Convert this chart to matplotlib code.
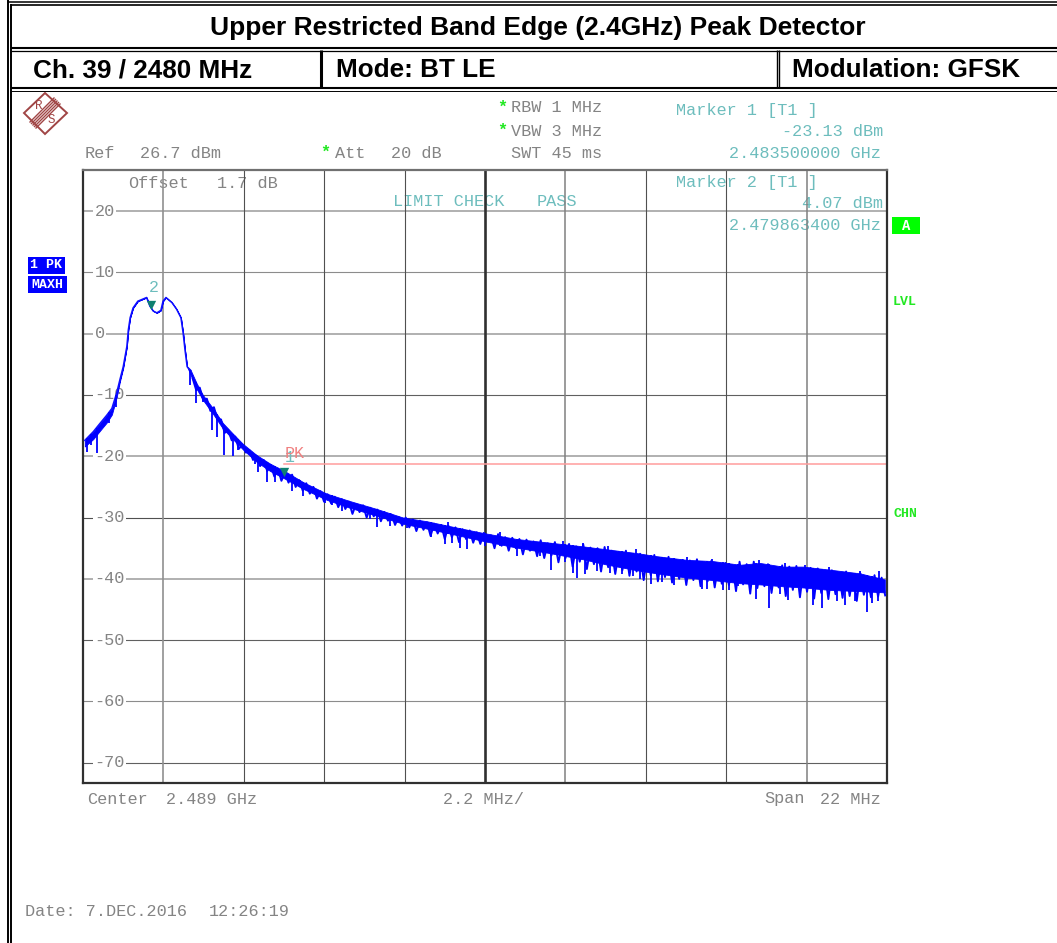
import numpy as np
import matplotlib
matplotlib.use("Agg")
import matplotlib.pyplot as plt
from matplotlib.patches import Polygon, Rectangle

# frequency is MHz above the start of the span (2478 MHz), level is dBm
peak_freq = [0.05, 0.28, 0.47, 0.65, 0.79, 0.92, 1.01, 1.10, 1.20, 1.24, 1.29, 1.37, 1.50, 1.74, 1.83,
             1.92, 2.02, 2.13, 2.19, 2.27, 2.43, 2.56, 2.68, 2.74, 2.79, 2.85, 2.95, 3.11, 3.28, 3.56,
             3.83, 4.10, 4.38, 4.75, 5.12, 5.57, 6.02, 6.67, 7.30, 8.04, 8.76, 9.41, 10.04, 10.94, 11.87,
             12.78, 13.68, 14.36, 15.16, 15.70, 16.53, 17.24, 17.98, 18.52, 19.15, 19.70, 20.44, 21.26, 21.94]
band_upper = [-17.4, -16.0, -14.6, -13.3, -12.2, -9.7, -7.5, -5.4, -2.1, 0.6, 2.6, 4.2, 5.3, 5.9, 4.5,
              3.7, 3.4, 3.8, 5.3, 5.9, 5.1, 4.0, 2.6, 0.1, -2.6, -5.4, -6.0, -8.1, -10.0, -12.2,
              -14.6, -16.3, -18.0, -19.8, -21.2, -22.6, -24.2, -26.1, -27.3, -28.6, -30.0, -30.6, -31.4, -32.5, -33.5,
              -34.1, -34.7, -35.2, -35.8, -36.3, -36.9, -37.1, -37.7, -37.4, -38.0, -38.0, -38.5, -39.1, -40.1]
band_lower = [-18.4, -17.2, -15.8, -14.5, -13.2, -10.4, -7.8, -5.6, -2.1, 0.6, 2.6, 4.2, 5.3, 5.9, 4.5,
              3.7, 3.4, 3.8, 5.3, 5.9, 5.1, 4.0, 2.6, 0.1, -2.6, -5.4, -6.8, -9.0, -10.8, -13.1,
              -15.5, -17.2, -18.9, -20.9, -22.4, -23.8, -25.3, -27.1, -28.4, -29.7, -31.0, -31.8, -32.6, -33.8, -34.9,
              -35.8, -36.8, -37.7, -38.6, -39.1, -39.8, -40.2, -40.7, -40.9, -41.2, -41.4, -41.8, -42.0, -42.2]
peak_points = 27  # above 3 MHz the trace is noise, drawn from sweep_level

sweep_start = 3.0
sweep_stop = 21.95
sweep_level = [-7.3, -9.2, -8.8, -10.9, -10.6, -12.6, -12.0, -14.0, -14.0, -16.2, -15.7, -17.4, -16.8, -18.8, -18.1, -19.4, -19.0, -20.6, -19.9, -21.6,
               -20.6, -22.4, -21.4, -23.3, -22.0, -24.0, -22.6, -24.3, -23.0, -25.0, -23.9, -25.6, -24.4, -26.1, -25.0, -26.9, -25.7, -27.4, -26.2, -27.7,
               -26.6, -28.3, -27.0, -28.6, -27.4, -29.4, -27.8, -29.1, -28.0, -30.0, -28.4, -29.8, -28.7, -30.6, -29.1, -30.5, -29.5, -31.2, -29.9, -31.3,
               -30.0, -31.6, -30.3, -32.2, -30.5, -32.0, -30.8, -33.0, -31.0, -32.6, -31.2, -33.5, -31.3, -33.2, -31.6, -34.0, -31.9, -33.5, -32.1, -34.1,
               -32.4, -34.3, -32.5, -33.9, -32.9, -35.0, -32.7, -34.6, -33.2, -35.4, -33.3, -35.0, -33.5, -36.0, -33.6, -35.4, -33.9, -36.3, -33.7, -36.6,
               -34.2, -36.2, -34.0, -37.3, -34.5, -36.6, -34.3, -38.0, -34.7, -37.2, -34.4, -38.4, -34.9, -37.6, -35.0, -38.8, -34.8, -38.1, -35.4, -39.2,
               -35.6, -38.6, -35.4, -39.5, -36.0, -38.8, -35.9, -40.2, -36.3, -39.4, -36.1, -40.4, -36.7, -39.7, -36.4, -40.6, -37.0, -40.0, -36.9, -41.0,
               -37.0, -40.2, -36.8, -41.2, -37.3, -40.4, -37.1, -41.4, -37.7, -40.8, -37.4, -41.0, -37.8, -42.0, -37.2, -40.9, -37.6, -42.4, -37.2, -41.5,
               -37.9, -41.2, -37.6, -42.3, -38.1, -41.4, -37.8, -42.8, -38.0, -41.8, -37.9, -43.0, -38.4, -42.1, -38.2, -43.2, -38.3, -42.3, -38.8, -43.3,
               -38.6, -42.5, -39.0, -43.1, -38.8, -42.8, -39.3, -43.6, -39.1, -42.6, -39.6, -43.0, -39.4, -42.9, -39.8, -42.7]

dip_freq = [0.10, 0.21, 0.37, 0.72, 0.90, 2.93, 3.09, 3.29, 3.52, 3.66, 3.87, 4.11, 4.24, 4.71, 4.79, 5.03,
            5.25, 5.71, 5.94, 6.02, 6.62, 6.81, 7.09, 7.85, 8.04, 8.40, 8.86, 9.52, 9.90, 10.10, 10.31, 10.51,
            11.00, 11.41, 11.87, 12.50, 12.80, 13.19, 13.41, 13.52, 13.73, 14.06, 14.42, 14.75, 15.05, 15.24,
            15.54, 15.84, 16.17, 16.94, 17.07, 17.51, 17.67, 17.92, 18.41, 18.77, 19.07, 19.29, 19.97, 20.22,
            20.63, 20.85, 21.12, 21.45, 21.59, 21.75]
dip_level = [-19.3, -18.2, -19.5, -14.6, -11.9, -8.4, -11.3, -11.1, -15.7, -16.8, -19.8, -19.9, -19.0, -21.2, -22.6, -24.2,
             -24.2, -25.6, -25.0, -26.4, -27.7, -28.0, -28.9, -30.2, -31.5, -31.3, -31.7, -33.2, -34.3, -34.2, -34.9, -35.1,
             -34.6, -34.6, -36.2, -36.2, -38.5, -37.3, -39.0, -39.8, -39.2, -38.7, -39.0, -39.2, -39.5, -40.0,
             -40.8, -40.5, -41.0, -41.7, -41.7, -41.8, -41.8, -41.1, -43.3, -44.7, -42.5, -43.5, -44.3, -44.7,
             -43.6, -44.3, -43.6, -45.4, -43.9, -43.6]
spike_freq = [9.99, 11.41, 13.13, 13.68, 14.36, 15.13, 16.53, 17.20, 18.50, 19.20, 19.75, 20.40, 21.26, 21.78]
spike_level = [-30.7, -32.4, -33.9, -34.1, -34.6, -35.2, -36.4, -36.7, -36.9, -37.4, -37.7, -38.1, -38.7, -38.7]

y_ticks = [20, 10, 0, -10, -20, -30, -40, -50, -60, -70]
y_grid_color = ['#b0b0b0', '#8c8c8c', '#b0b0b0', '#606060', '#b0b0b0', '#505050', '#b0b0b0', '#606060', '#8c8c8c', '#606060']
y_grid_width = [1.4, 0.8, 1.4, 0.8, 1.4, 0.8, 1.4, 0.8, 0.8, 0.8]
x_grid = [2.2, 4.4, 6.6, 8.8, 11.0, 13.2, 15.4, 17.6, 19.8]
x_grid_color = ['#909090', '#505050', '#505050', '#505050', '#303030', '#808080', '#505050', '#505050', '#808080']
x_grid_width = [1.2, 0.8, 0.8, 0.8, 1.9, 1.1, 0.8, 0.8, 1.1]

limit_level = -21.2
limit_start = 5.5
marker_freq = [5.5, 1.863]
marker_level = [-23.13, 4.07]

W, H = 1057, 943
GREY = '#848484'
TEAL = '#6dbdbd'
GREEN = '#22e822'
MONO = 'Liberation Mono'
HEAD = 'Liberation Sans'

fig = plt.figure(figsize=(W / 100, H / 100), dpi=100)

# page layer in pixel coordinates for the table frame and instrument text
bg = fig.add_axes([0, 0, 1, 1])
bg.set_xlim(0, W)
bg.set_ylim(H, 0)
bg.axis('off')

ax = fig.add_axes([83 / W, (H - 783) / H, 804 / W, 613 / H])
ax.set_xlim(0, 22)
ax.set_ylim(-73.3, 26.7)
ax.set_xticks([])
ax.set_yticks([])
ax.patch.set_alpha(0)
for s in ax.spines.values():
    s.set_linewidth(1.6)
    s.set_color('#303030')
ax.spines['top'].set_color('#707070')

for v, c, w in zip(y_ticks, y_grid_color, y_grid_width):
    ax.axhline(v, color=c, lw=w, zorder=1)
    ax.text(0.32, v, str(v), family=MONO, fontsize=12.2, color=GREY, va='center', ha='left', zorder=2,
            bbox=dict(fc='white', ec='none', pad=1))
for v, c, w in zip(x_grid, x_grid_color, x_grid_width):
    ax.axvline(v, color=c, lw=w, zorder=1)

ax.plot([limit_start, 22], [limit_level, limit_level], color='#ff9c9c', lw=1.1, zorder=2)

# trace: solid core, the noisy sweep over it, then the deepest single dips
ax.fill_between(peak_freq, band_lower, band_upper, color='#0000ff', lw=0.6, zorder=3)
ax.plot(peak_freq[:peak_points], band_upper[:peak_points], color='#1010ff', lw=1.1, zorder=3)
sweep_freq = np.linspace(sweep_start, sweep_stop, len(sweep_level))
ax.plot(sweep_freq, sweep_level, color='#0000ff', lw=1.4, zorder=3)
dip_top = np.interp(dip_freq, peak_freq, band_upper)
ax.vlines(dip_freq, dip_level, dip_top, color='#0000ff', lw=1.3, zorder=3)
ax.vlines(spike_freq, [l - 2 for l in spike_level], spike_level, color='#0000ff', lw=1.3, zorder=3)

ax.scatter(marker_freq, [l + 0.6 for l in marker_level], marker='v', s=45, color='#0f8070', zorder=4, lw=0)
ax.text(5.52, -20.2, '1', family=MONO, fontsize=12, color=TEAL, ha='left', va='center', zorder=5)
ax.text(5.52, -19.5, 'PK', family=MONO, fontsize=12, color='#f08080', ha='left', va='center', zorder=5)
ax.text(1.93, 7.5, '2', family=MONO, fontsize=12, color=TEAL, ha='center', va='center', zorder=5)

# table frame
def hline(y, x0=8, x1=W, lw=1.1):
    bg.plot([x0, x1], [y, y], color='black', lw=lw, solid_capstyle='butt')

def vline(x, y0, y1, lw=1.1):
    bg.plot([x, x], [y0, y1], color='black', lw=lw, solid_capstyle='butt')

hline(1.5, lw=1.1)
hline(4.8, x0=11, lw=1.2)
hline(47.5, x0=11, lw=1.5)
hline(50.5, x0=11, lw=0.9)
hline(88, x0=11, lw=1.5)
hline(90.5, x0=11, lw=0.7)
vline(8.2, 0, H, lw=1.4)
vline(11.2, 4, H, lw=1.4)
vline(321, 50, 88, lw=2.2)
vline(776.5, 50, 88, lw=1.0)
vline(779, 50, 88, lw=1.0)

bg.text(538, 28, 'Upper Restricted Band Edge (2.4GHz) Peak Detector', family=HEAD, fontweight='bold',
        fontsize=19, ha='center', va='center')
bg.text(33, 70, 'Ch. 39 / 2480 MHz', family=HEAD, fontweight='bold', fontsize=18.8, ha='left', va='center')
bg.text(336, 70, 'Mode: BT LE', family=HEAD, fontweight='bold', fontsize=18.8, ha='left', va='center')
bg.text(792, 70, 'Modulation: GFSK', family=HEAD, fontweight='bold', fontsize=18.8, ha='left', va='center')

# R&S logo
logo = '#a04545'
bg.add_patch(Polygon([(24, 113), (45, 93), (67, 113), (45, 134)], closed=True, fc='none', ec=logo, lw=1.4))
for d in [-3, -1.5, 0, 1.5, 3]:
    bg.plot([33 + d, 57 + d], [125 + d, 101 + d], color=logo, lw=1.0)
bg.text(39, 106, 'R', family=MONO, fontsize=9, color=logo, ha='center', va='center')
bg.text(51, 120, 'S', family=MONO, fontsize=9, color=logo, ha='center', va='center')

# instrument readouts
def label(x, y, s, c=GREY, ha='left', fs=12.2, fw='normal'):
    bg.text(x, y, s, family=MONO, fontsize=fs, color=c, ha=ha, va='center', fontweight=fw)

label(85, 153, 'Ref')
label(140, 153, '26.7 dBm')
label(335, 153, 'Att')
label(391, 153, '20 dB')
label(511, 108, 'RBW 1 MHz')
label(511, 131, 'VBW 3 MHz')
label(511, 153, 'SWT 45 ms')
for x, y in [(325, 152), (502, 107), (502, 130)]:
    label(x, y, '*', c=GREEN, ha='center', fw='bold')
label(676, 110, 'Marker 1 [T1 ]', c=TEAL)
label(883, 131, '-23.13 dBm', c=TEAL, ha='right')
label(881, 153, '2.483500000 GHz', c=TEAL, ha='right')
label(676, 183, 'Marker 2 [T1 ]', c=TEAL)
label(883, 204, '4.07 dBm', c=TEAL, ha='right')
label(881, 226, '2.479863400 GHz', c=TEAL, ha='right')
label(393, 202, 'LIMIT CHECK', c=TEAL)
label(537, 202, 'PASS', c=TEAL)
label(128, 184, 'Offset')
label(217, 184, '1.7 dB')
label(87, 799, 'Center')
label(166, 799, '2.489 GHz')
label(443, 799, '2.2 MHz/')
label(764, 799, 'Span')
label(820, 799, '22 MHz')
label(25, 912, 'Date: 7.DEC.2016')
label(209, 912, '12:26:19')
label(893, 302, 'LVL', c=GREEN, fs=9.5, fw='bold')
label(893, 514, 'CHN', c=GREEN, fs=9.5, fw='bold')

bg.add_patch(Rectangle((892, 217), 28, 17, fc='#00ff00', ec='none'))
label(906, 226, 'A', c='white', ha='center', fs=10, fw='bold')
bg.add_patch(Rectangle((28, 257), 37, 17, fc='#0000ff', ec='none'))
label(46.5, 265, '1 PK', c='white', ha='center', fs=9.5, fw='bold')
bg.add_patch(Rectangle((28, 276), 39, 17, fc='#0000ff', ec='none'))
label(47.5, 285, 'MAXH', c='white', ha='center', fs=9.5, fw='bold')

fig.savefig('out.png', dpi=100)
